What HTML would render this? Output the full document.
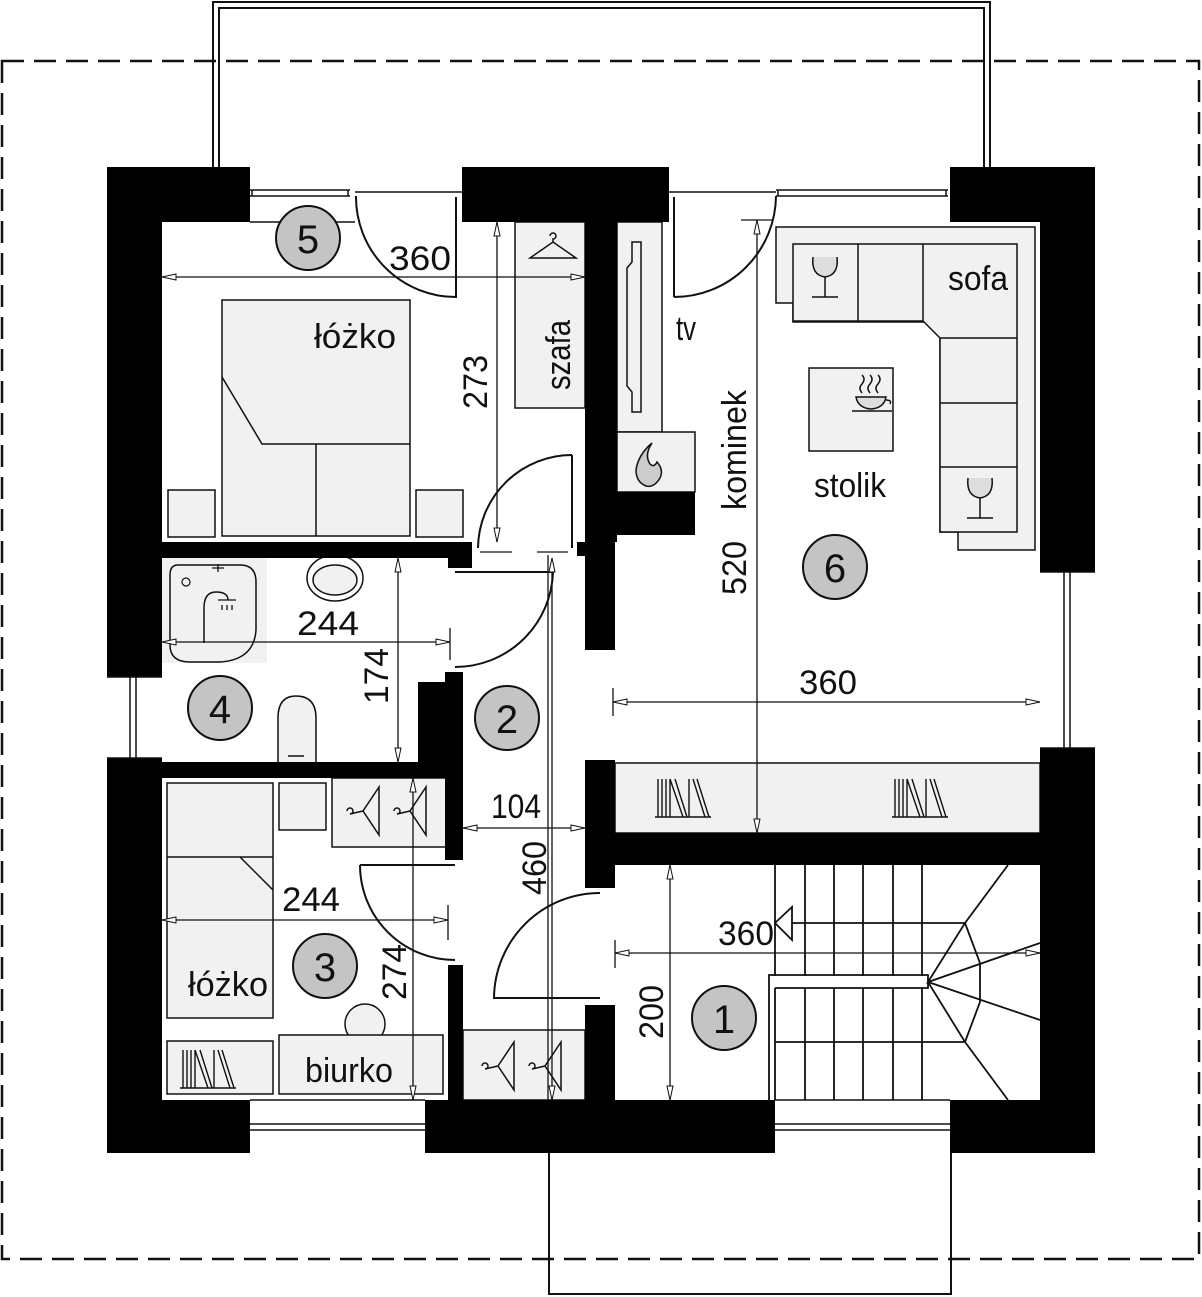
<!DOCTYPE html>
<html><head><meta charset="utf-8"><style>html,body{margin:0;padding:0;background:#fff}svg{display:block}text{font-family:"Liberation Sans",sans-serif;fill:#111}</style></head>
<body>
<svg width="1202" height="1297" viewBox="0 0 1202 1297" xmlns="http://www.w3.org/2000/svg">
<defs>
<g id="hanger"><path d="M0,-14 a3,3 0 1 1 3,3 L3,-8 M-20,8 L3,-8 L26,8 Z" fill="none" stroke="#111" stroke-width="1.5"/></g>
<g id="vhanger"><path d="M-14,0 a3,3 0 1 1 3,3 L2,0 M18,-24 L2,0 L18,24 Z" fill="none" stroke="#111" stroke-width="1.5"/></g>
<g id="books"><path d="M0,0 H56 M3,0 V-38 M7,0 V-38 M11,0 V-38 M15,0 V-38 M15,-38 L28,0 M20,-38 L32,0 M34,0 V-38 M38,-38 L50,0 M42,-38 L54,0" fill="none" stroke="#111" stroke-width="1.4"/></g>
<g id="glass"><path d="M-12,-20 Q-14,-2 0,0 Q14,-2 12,-20" fill="#ddd" stroke="#111" stroke-width="1.5"/><path d="M0,0 V20 M-13,20 H13" stroke="#111" stroke-width="1.5"/></g>
</defs>
<rect x="2" y="61" width="1197" height="1198" fill="none" stroke="#111" stroke-width="2.5" stroke-dasharray="22,10"/>
<path d="M213,168 V2 H990 V168 M219,168 V8 H984 V168" fill="none" stroke="#111" stroke-width="2"/>
<path d="M549,1153 V1294 H951 V1153" fill="none" stroke="#111" stroke-width="2"/>
<rect x="107" y="167" width="988" height="986" fill="#fff"/>
<g fill="#f1f1f1" stroke="#111" stroke-width="1.5">
<rect x="515" y="222" width="70" height="186"/>
<rect x="617" y="222" width="45" height="210"/>
<rect x="617" y="432" width="78" height="60"/>
<rect x="222" y="300" width="188" height="236"/>
<rect x="168" y="490" width="47" height="47"/>
<rect x="416" y="490" width="47" height="47"/>
<rect x="615" y="763" width="425" height="70"/>
<rect x="463" y="1030" width="122" height="70"/>
<rect x="332" y="778" width="116" height="69"/>
<rect x="167" y="783" width="106" height="235"/>
<rect x="279" y="783" width="47" height="47"/>
<circle cx="365" cy="1024" r="20"/>
<rect x="167" y="1041" width="106" height="53"/>
<rect x="279" y="1035" width="164" height="59"/>
<rect x="809" y="368" width="84" height="83"/>
</g>
<g fill="#f1f1f1" stroke="#111" stroke-width="1.5">
<path d="M776,227 H1035 V550 H958 V532 H940 V322 H793 V303 H776 Z"/>
<path d="M793,244 H1017 V532 H940 V338 L923,321 H793 Z"/>
<path d="M858,244 V321 M923,244 V321 M940,338 H1017 M940,403 H1017 M940,467 H1017" fill="none"/>
</g>
<use href="#glass" x="825" y="277"/>
<use href="#glass" x="980" y="498"/>
<g stroke="#111" stroke-width="1.5" fill="#ddd"><path d="M856,397 H886 Q884,408 871,409 Q858,408 856,397 Z"/><path d="M852,411 H892 M886,400 q6,0 4,4" fill="none"/><path d="M862,393 q-4,-5 0,-9 q4,-5 0,-9 M870,393 q-4,-5 0,-9 q4,-5 0,-9 M878,393 q-4,-5 0,-9 q4,-5 0,-9" fill="none"/></g>
<path d="M632,242 H641 V412 H632 V392 L627,386 V268 L632,262 Z" fill="none" stroke="#111" stroke-width="1.5"/>
<path d="M652,443 Q644,455 650,464 Q654,468 657,462 Q664,470 660,478 Q654,488 646,486 Q636,482 636,470 Q638,455 652,443 Z" fill="#ccc" stroke="#111" stroke-width="1.5"/>
<path d="M222,377 L262,444 H410 M316,444 V536 M167,857 H273 M240,857 L273,890" fill="none" stroke="#111" stroke-width="1.5"/>
<use href="#hanger" x="550" y="250"/>
<use href="#vhanger" x="361" y="811"/>
<use href="#vhanger" x="408" y="811"/>
<use href="#vhanger" x="496" y="1066"/>
<use href="#vhanger" x="543" y="1066"/>
<use href="#books" x="180" y="1088"/>
<use href="#books" x="655" y="817"/>
<use href="#books" x="892" y="817"/>
<rect x="162" y="558" width="105" height="105" fill="#f1f1f1"/>
<path d="M178,565 H240 Q256,565 256,582 V630 Q254,660 220,662 H190 Q170,662 170,645 V575 Q170,565 178,565 Z" fill="none" stroke="#111" stroke-width="1.5"/>
<path d="M204,643 V608 Q204,592 216,592 Q228,592 228,600" fill="none" stroke="#111" stroke-width="1.5"/>
<path d="M218,600 H236 M222,605 V610 M227,605 V610 M232,605 V610 M212,568 h12 M218,564 v8" stroke="#111" stroke-width="1.3"/>
<circle cx="186" cy="582" r="4" fill="none" stroke="#111" stroke-width="1.2"/>
<ellipse cx="335" cy="578" rx="28" ry="23" fill="none" stroke="#111" stroke-width="1.5"/>
<ellipse cx="335" cy="580" rx="22" ry="15" fill="#f1f1f1" stroke="#111" stroke-width="1.5"/>
<path d="M278,762 V718 Q278,696 296,696 Q316,696 316,718 V762" fill="#f1f1f1" stroke="#111" stroke-width="1.5"/>
<path d="M288,756 H304" stroke="#111" stroke-width="1.5"/>
<g stroke="#111" stroke-width="1.8" fill="none">
<path d="M805,865 V976 M834,865 V976 M863,865 V976 M893,865 V976 M922,865 V976 M805,988 V1100 M834,988 V1100 M863,988 V1100 M893,988 V1100 M922,988 V1100"/>
<path d="M775,1100 V988 M775,865 V976"/>
<path d="M769,1100 V975 H928 V988 H775"/>
<path d="M775,1042 H965 M1008,865 L965,923 L928,982 L1040,943 M928,982 L1040,1020 M928,982 L965,1042 L1008,1100 M965,923 L980,963 V1002 L965,1042"/>
<path d="M775,923 H965"/>
<path d="M775,923 L792,907 V940 Z" fill="#fff"/>
</g>
<g fill="#000">
<rect x="107" y="167" width="143" height="55"/>
<rect x="107" y="167" width="55" height="510"/>
<rect x="107" y="758" width="55" height="395"/>
<rect x="462" y="167" width="207" height="55"/>
<rect x="950" y="167" width="145" height="55"/>
<rect x="1040" y="167" width="55" height="405"/>
<rect x="1040" y="748" width="55" height="405"/>
<rect x="107" y="1100" width="143" height="53"/>
<rect x="425" y="1100" width="350" height="53"/>
<rect x="950" y="1100" width="145" height="53"/>
<rect x="585" y="222" width="32" height="320"/>
<rect x="577" y="542" width="38" height="14"/>
<rect x="585" y="542" width="30" height="108"/>
<rect x="615" y="492" width="80" height="43"/>
<rect x="162" y="542" width="310" height="16"/>
<rect x="448" y="542" width="24" height="26"/>
<rect x="162" y="762" width="300" height="16"/>
<rect x="445" y="672" width="18" height="188"/>
<rect x="418" y="682" width="30" height="96"/>
<rect x="448" y="965" width="15" height="135"/>
<rect x="585" y="760" width="30" height="128"/>
<rect x="585" y="833" width="455" height="32"/>
<rect x="585" y="1005" width="30" height="95"/>
</g>
<g fill="none" stroke="#111" stroke-width="1.5">
<path d="M250,190 H350 M250,196 H350 M252,190 V196 M348,190 V196 M250,222 H355 M355,192 H462"/>
<path d="M669,192 H776 M776,190 H948 M776,196 H948 M778,190 V196 M946,190 V196"/>
<path d="M130,677 V758 M136,677 V758 M107,677 H162 M107,758 H162"/>
<path d="M1064,572 V748 M1070,572 V748 M1040,572 H1095 M1040,748 H1095"/>
<path d="M250,1124 H425 M250,1130 H425 M250,1100 H425"/>
<path d="M775,1124 H950 M775,1130 H950 M775,1100 H950"/>
</g>
<g fill="none" stroke="#111" stroke-width="2">
<path d="M456,197 V298 M356,196 A100,100 0 0 0 456,297"/>
<path d="M674,197 V297 M674,297 A102,102 0 0 0 776,196"/>
<path d="M572,548 V455 M478,548 A94,94 0 0 1 572,455"/>
<path d="M455,572 H553 M553,572 A98,98 0 0 1 455,667"/>
<path d="M360,865 H455 M360,865 A95,95 0 0 0 455,960"/>
<path d="M600,893 A106,106 0 0 0 494,998 H600"/>
</g>
<g stroke="#111" stroke-width="1.3" fill="#fff">
<path d="M162,277 H585 M497,222 V542 M162,642 H450 M450,628 V660 M398,558 V762 M162,920 H448 M448,905 V940 M413,778 V1100 M463,828 H585 M552,558 V1100 M613,688 V716 M613,702 H1040 M615,940 V968 M615,953 H1040 M670,865 V1100 M757,222 V833 M741,220 H773 M480,552 H512 M537,552 H568 M548,555 V1100"/>
<g stroke-width="1">
<path d="M162,277 l14,-3 v6 z M585,277 l-14,-3 v6 z"/>
<path d="M497,222 l-3,14 h6 z M497,542 l-3,-14 h6 z"/>
<path d="M162,642 l14,-3 v6 z M450,642 l-14,-3 v6 z"/>
<path d="M398,558 l-3,14 h6 z M398,762 l-3,-14 h6 z"/>
<path d="M162,920 l14,-3 v6 z M448,920 l-14,-3 v6 z"/>
<path d="M413,778 l-3,14 h6 z M413,1100 l-3,-14 h6 z"/>
<path d="M463,828 l14,-3 v6 z M585,828 l-14,-3 v6 z"/>
<path d="M552,558 l-3,14 h6 z M552,1100 l-3,-14 h6 z"/>
<path d="M613,702 l14,-3 v6 z M1040,702 l-14,-3 v6 z"/>
<path d="M615,953 l14,-3 v6 z M1040,953 l-14,-3 v6 z"/>
<path d="M670,865 l-3,14 h6 z M670,1100 l-3,-14 h6 z"/>
<path d="M757,220 l-3,14 h6 z M757,833 l-3,-14 h6 z"/>
</g>
</g>
<g fill="#c4c4c4" stroke="#111" stroke-width="2">
<circle cx="308" cy="238" r="32"/><circle cx="220" cy="708" r="32"/><circle cx="507" cy="718" r="32"/>
<circle cx="325" cy="966" r="32"/><circle cx="724" cy="1018" r="32"/><circle cx="835" cy="567" r="32"/>
</g>
<g font-size="40" text-anchor="middle">
<text x="308" y="253">5</text><text x="220" y="723">4</text><text x="507" y="733">2</text>
<text x="325" y="981">3</text><text x="724" y="1033">1</text><text x="835" y="582">6</text>
</g>
<g font-size="34" text-anchor="middle">
<text x="420" y="270" textLength="62" lengthAdjust="spacingAndGlyphs">360</text>
<text x="355" y="348" textLength="82" lengthAdjust="spacingAndGlyphs">łóżko</text>
<text x="328" y="635" textLength="62" lengthAdjust="spacingAndGlyphs">244</text>
<text x="311" y="911" textLength="58" lengthAdjust="spacingAndGlyphs">244</text>
<text x="228" y="996" textLength="80" lengthAdjust="spacingAndGlyphs">łóżko</text>
<text x="349" y="1082" textLength="88" lengthAdjust="spacingAndGlyphs">biurko</text>
<text x="516" y="818" textLength="50" lengthAdjust="spacingAndGlyphs">104</text>
<text x="828" y="694" textLength="58" lengthAdjust="spacingAndGlyphs">360</text>
<text x="746" y="945" textLength="56" lengthAdjust="spacingAndGlyphs">360</text>
<text x="978" y="290" textLength="60" lengthAdjust="spacingAndGlyphs">sofa</text>
<text x="850" y="497" textLength="72" lengthAdjust="spacingAndGlyphs">stolik</text>
<text x="686" y="340" textLength="20" lengthAdjust="spacingAndGlyphs">tv</text>
<text transform="translate(487,382) rotate(-90)" textLength="54" lengthAdjust="spacingAndGlyphs">273</text>
<text transform="translate(570,355) rotate(-90)" textLength="70" lengthAdjust="spacingAndGlyphs">szafa</text>
<text transform="translate(388,676) rotate(-90)" textLength="56" lengthAdjust="spacingAndGlyphs">174</text>
<text transform="translate(406,972) rotate(-90)" textLength="56" lengthAdjust="spacingAndGlyphs">274</text>
<text transform="translate(546,868) rotate(-90)" textLength="54" lengthAdjust="spacingAndGlyphs">460</text>
<text transform="translate(663,1012) rotate(-90)" textLength="54" lengthAdjust="spacingAndGlyphs">200</text>
<text transform="translate(746,568) rotate(-90)" textLength="54" lengthAdjust="spacingAndGlyphs">520</text>
<text transform="translate(746,450) rotate(-90)" textLength="120" lengthAdjust="spacingAndGlyphs">kominek</text>
</g>
</svg>
</body></html>
